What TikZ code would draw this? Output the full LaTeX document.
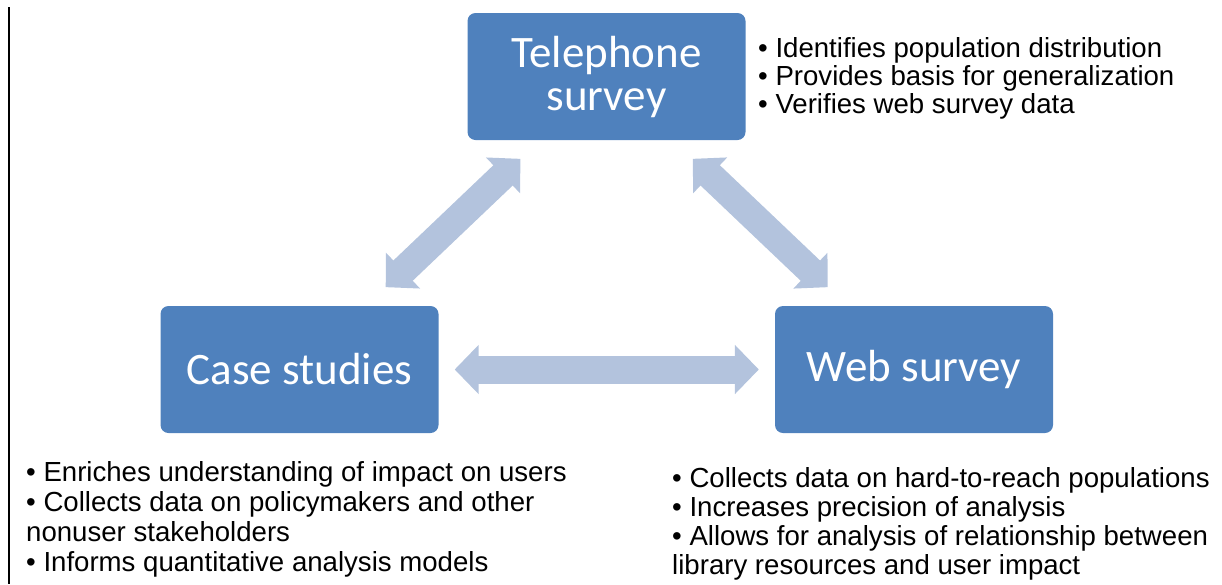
\documentclass[tikz,border=0pt]{standalone}
\usepackage{fontspec}
\setmainfont{Liberation Sans}
\newfontfamily\boxfont{Carlito}
\usetikzlibrary{arrows.meta}
\definecolor{boxblue}{HTML}{4F81BD}
\definecolor{arrowblue}{HTML}{B3C3DD}

\begin{document}
\begin{tikzpicture}
  [x=1pt,y=-1pt,
   box/.style={rectangle,rounded corners=8pt,fill=boxblue,text=white,
     minimum width=278pt,minimum height=127pt,align=center,
     font=\boxfont\fontsize{45}{43}\selectfont},
   note/.style={anchor=north west,inner sep=0pt,align=left,
     font=\fontsize{27.6}{30}\selectfont},
   link/.style={line width=28pt,draw=arrowblue,<->,
     >={Triangle[length=24pt,width=48pt]}}]
  \useasboundingbox (0,0) rectangle (1222,584);
  \draw[line width=2pt] (9,7) -- (9,584);

  \node[box] (tel) at (606.5,76.5) {Telephone\\survey};
  \node[box] (case) at (299.5,369.5) {Case studies};
  \node[box] (web) at (914,369.5) {Web survey};

  \foreach \from/\to/\gap in {case/tel/27pt, tel/web/27pt, case/web/16pt}
    \draw[link,shorten <=\gap,shorten >=\gap] (\from) -- (\to);

  \node[note,font=\fontsize{27.6}{28}\selectfont] (telnote) at (758,37)
    {• Identifies population distribution\\
    • Provides basis for generalization\\• Verifies web survey data};
  \node[note] (casenote) at (26,461) {• Enriches understanding of impact on users\\
    • Collects data on policymakers and other\\nonuser stakeholders\\
    • Informs quantitative analysis models};
  \node[note,font=\fontsize{27.6}{29}\selectfont] (webnote) at (672,467)
    {• Collects data on hard-to-reach populations\\
    • Increases precision of analysis\\
    • Allows for analysis of relationship between\\library resources and user impact};

\end{tikzpicture}
\end{document}
